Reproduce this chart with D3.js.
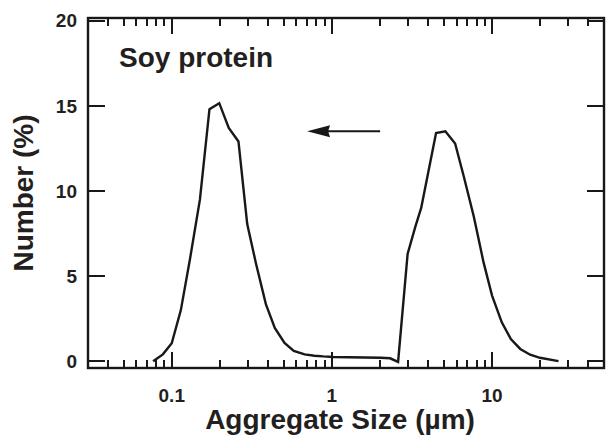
<!DOCTYPE html>
<html>
<head>
<meta charset="utf-8">
<script src="https://cdn.jsdelivr.net/npm/d3@7"></script>
<style>
  html, body { margin: 0; padding: 0; background: #fff; }
  svg { display: block; }
  text { font-family: "Liberation Sans", Arial, Helvetica, sans-serif; font-weight: bold; fill: #231f20; }
</style>
</head>
<body>
<script>
// ---- data ----
const sizes = [0.0765, 0.088, 0.1, 0.114, 0.13, 0.15, 0.172, 0.198, 0.227, 0.261, 0.296, 0.336, 0.387, 0.44, 0.506, 0.578, 0.676, 0.778, 0.885, 1.02, 2.01, 2.31, 2.59, 2.97, 3.32, 3.61, 4.47, 5.11, 5.88, 6.68, 7.69, 8.85, 10.0, 11.5, 13.1, 15.0, 17.3, 19.9, 26];
const numbers = [0, 0.4, 1.05, 3.0, 6.0, 9.5, 14.8, 15.15, 13.7, 12.9, 8.05, 5.72, 3.35, 1.95, 1.07, 0.6, 0.4, 0.32, 0.28, 0.25, 0.2, 0.17, -0.04, 6.3, 7.9, 9.0, 13.4, 13.5, 12.78, 10.8, 8.5, 5.8, 3.85, 2.28, 1.3, 0.72, 0.38, 0.2, 0];
const xMajorTicks = [0.1, 1, 10];
const xTickLabels = ["0.1", "1", "10"];
const xMinorTicks = [0.03, 0.04, 0.05, 0.06, 0.07, 0.08, 0.09, 0.2, 0.3, 0.4, 0.5, 0.6, 0.7, 0.8, 0.9, 2, 3, 4, 5, 6, 7, 8, 9, 20, 30, 40, 50];
const yTicks = [0, 5, 10, 15, 20];
const yTickLabels = ["0", "5", "10", "15", "20"];
const xDomain = [0.03, 50];
const yDomain = [-0.4, 20.15];
const sampleLabel = "Soy protein";
const xTitle = "Aggregate Size (\u00b5m)";
const yTitle = "Number (%)";
const arrowFrom = [2.0, 13.5];
const arrowTo = [0.7, 13.5];

// ---- layout ----
const W = 607, H = 435;
const L = 88, R = 604, T = 18, B = 368;
const ink = "#1a1718";

const svg = d3.select("body").append("svg").attr("width", W).attr("height", H);

const x = d3.scaleLog().domain(xDomain).range([L, R]);
const y = d3.scaleLinear().domain(yDomain).range([B, T]);

// frame
svg.append("rect").attr("x", L).attr("y", T).attr("width", R - L).attr("height", B - T)
  .attr("fill", "none").attr("stroke", ink).attr("stroke-width", 2.4);

// ---- ticks (inward, drawn from the scales) ----
let tickD = "";
xMinorTicks.forEach(v => {
  const px = Math.round(x(v));
  tickD += `M${px},${B}V${B - 8}M${px},${T}V${T + 8}`;
});
xMajorTicks.forEach(v => {
  const px = Math.round(x(v));
  tickD += `M${px},${B}V${B - 16}M${px},${T}V${T + 16}`;
});
yTicks.forEach(v => {
  const py = Math.round(y(v));
  tickD += `M${L},${py}H${L + 17}M${R},${py}H${R - 17}`;
});
svg.append("path").attr("d", tickD).attr("fill", "none")
  .attr("stroke", ink).attr("stroke-width", 2.6).attr("shape-rendering", "crispEdges");

// ---- tick labels ----
svg.append("g").selectAll("text").data(xMajorTicks).join("text")
  .attr("x", d => x(d)).attr("y", 402).attr("text-anchor", "middle")
  .style("font-size", "19px").text((d, i) => xTickLabels[i]);
svg.append("g").selectAll("text").data(yTicks).join("text")
  .attr("x", L - 11).attr("y", d => y(d)).attr("dy", "0.36em").attr("text-anchor", "end")
  .style("font-size", "19px").text((d, i) => yTickLabels[i]);

// data line
const line = d3.line().x((d, i) => x(sizes[i])).y(d => y(d));
svg.append("path").datum(numbers).attr("d", line)
  .attr("fill", "none").attr("stroke", ink).attr("stroke-width", 2.4).attr("stroke-linejoin", "miter");

// arrow annotation
const ax1 = x(arrowFrom[0]), ay = y(arrowFrom[1]), ax2 = x(arrowTo[0]);
svg.append("line").attr("x1", ax1).attr("y1", ay).attr("x2", ax2 + 18).attr("y2", ay)
  .attr("stroke", ink).attr("stroke-width", 1.8);
svg.append("path")
  .attr("d", `M${ax2},${ay} L${ax2 + 23},${ay - 6} L${ax2 + 21},${ay} L${ax2 + 23},${ay + 6} Z`)
  .attr("fill", ink);

// sample label
svg.append("text").attr("x", 119).attr("y", 67).style("font-size", "28px").text(sampleLabel);

// axis titles
svg.append("text").attr("x", (L + R) / 2 - 6).attr("y", 429).attr("text-anchor", "middle")
  .style("font-size", "28px").text(xTitle);
svg.append("text").attr("transform", `translate(33,${(T + B) / 2}) rotate(-90)`).attr("text-anchor", "middle")
  .style("font-size", "28px").text(yTitle);
</script>
</body>
</html>
